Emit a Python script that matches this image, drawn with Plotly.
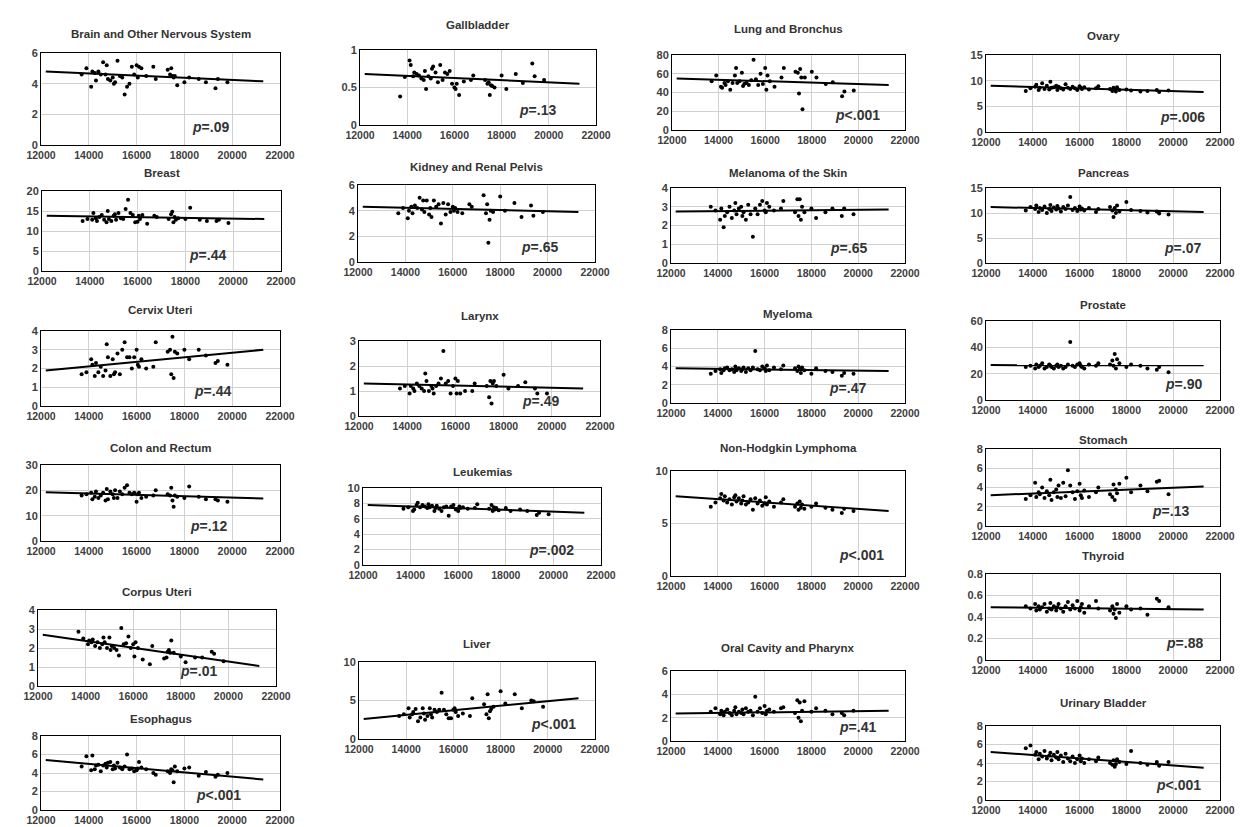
import plotly.graph_objects as go

# Shared x values (per-capita income)
income = [13700, 13900, 14100, 14150, 14250, 14300, 14400, 14500, 14600, 14700, 14750, 14800,
          14900, 15000, 15050, 15100, 15200, 15300, 15400, 15500, 15600, 15700, 15800, 15900,
          16000, 16050, 16100, 16200, 16400, 16700, 16800, 17300, 17400, 17450, 17500, 17550,
          17600, 17700, 18000, 18200, 18600, 18900, 19300, 19400, 19800]

trend_x = [12200, 21300]

brain = [4.6, 5.0, 3.8, 4.8, 4.7, 4.2, 4.8, 4.6, 5.4, 4.6, 5.2, 4.3, 4.2, 4.4, 4.0, 4.1, 5.5, 4.5, 4.4, 3.3, 3.8, 4.0, 5.1, 4.6, 5.2, 4.4, 5.1, 5.0, 4.5, 5.1, 4.3, 4.9, 4.6, 5.0, 4.5, 4.4, 4.5, 3.9, 4.1, 4.4, 4.3, 4.1, 3.7, 4.3, 4.1]
breast = [12.5, 13.0, 12.8, 14.5, 13.2, 12.5, 13.5, 14.0, 12.8, 12.2, 15.0, 13.0, 12.5, 13.8, 14.2, 12.8, 14.5, 13.2, 13.0, 15.5, 17.8, 14.5, 14.0, 12.2, 12.3, 13.8, 13.0, 14.0, 11.8, 13.8, 13.5, 13.0, 14.2, 14.8, 12.2, 13.5, 12.8, 13.2, 13.0, 15.8, 12.8, 12.5, 12.5, 12.8, 12.0]
cervix = [1.7, 1.8, 2.5, 2.2, 1.6, 2.3, 1.8, 2.1, 1.6, 1.9, 3.3, 2.6, 1.6, 2.5, 1.7, 1.8, 2.8, 1.7, 3.0, 3.4, 2.6, 2.6, 2.0, 2.6, 3.0, 2.2, 2.1, 2.5, 2.0, 2.1, 3.4, 2.9, 3.0, 1.7, 3.7, 1.5, 2.9, 2.8, 3.0, 2.5, 3.0, 2.7, 2.3, 2.4, 2.2]
colon = [18.0, 18.5, 19.0, 16.5, 17.5, 19.5, 17.0, 18.0, 19.0, 16.0, 20.5, 16.5, 19.5, 18.5, 17.0, 20.0, 17.0, 19.5, 18.5, 21.0, 22.0, 19.0, 18.5, 19.0, 15.5, 18.5, 19.0, 17.0, 17.5, 18.0, 20.0, 18.5, 18.0, 21.0, 16.0, 13.5, 18.0, 17.5, 17.0, 21.5, 17.5, 16.5, 16.5, 16.0, 15.5]
corpus = [2.85, 2.5, 2.2, 2.4, 2.3, 2.45, 2.1, 2.3, 2.0, 2.2, 2.55, 2.3, 2.0, 2.55, 1.9, 2.1, 2.0, 1.9, 1.6, 3.05, 2.2, 2.25, 2.6, 2.0, 2.2, 1.55, 2.3, 2.0, 1.4, 1.15, 2.1, 1.45, 1.5, 1.8, 1.9, 1.75, 2.4, 1.75, 1.55, 1.25, 1.5, 1.5, 1.8, 1.7, 1.3]
esophagus = [4.7, 5.8, 4.3, 5.9, 4.4, 4.8, 4.9, 4.2, 4.8, 5.0, 4.6, 5.1, 5.2, 4.4, 4.8, 4.5, 5.1, 4.6, 4.4, 4.7, 6.0, 4.4, 4.5, 4.2, 4.3, 4.5, 5.2, 4.6, 4.4, 4.0, 3.8, 4.2, 4.0, 4.4, 4.3, 3.0, 4.7, 4.2, 4.5, 4.6, 3.7, 4.1, 3.6, 3.8, 4.0]
gallbladder = [0.38, 0.64, 0.86, 0.80, 0.65, 0.70, 0.68, 0.66, 0.62, 0.60, 0.72, 0.48, 0.65, 0.62, 0.75, 0.78, 0.70, 0.57, 0.80, 0.60, 0.70, 0.68, 0.72, 0.55, 0.50, 0.48, 0.55, 0.40, 0.58, 0.60, 0.66, 0.60, 0.55, 0.57, 0.40, 0.53, 0.52, 0.50, 0.66, 0.48, 0.68, 0.56, 0.82, 0.65, 0.60]
kidney = [3.8, 4.2, 3.4, 4.0, 4.3, 3.8, 4.4, 4.2, 5.0, 4.1, 4.8, 3.9, 4.8, 3.7, 4.2, 3.5, 4.8, 4.3, 4.5, 3.0, 4.6, 3.7, 4.5, 3.9, 4.3, 4.0, 4.2, 3.9, 3.8, 4.5, 4.3, 5.2, 3.8, 4.5, 1.5, 3.3, 4.0, 3.9, 5.1, 4.0, 4.6, 3.5, 4.4, 3.6, 3.9]
larynx = [1.1, 1.2, 0.9, 1.2, 1.1, 1.0, 1.3, 1.2, 1.1, 1.0, 1.7, 1.4, 1.0, 1.2, 1.1, 0.9, 1.2, 1.3, 1.5, 2.6, 1.3, 1.4, 0.9, 1.2, 1.5, 0.9, 1.4, 0.9, 1.0, 1.0, 1.3, 1.2, 0.75, 1.4, 0.5, 1.3, 1.4, 1.2, 1.65, 1.1, 1.2, 1.35, 1.1, 0.9, 0.9]
leukemias = [7.3, 7.5, 7.0, 7.2, 7.8, 8.1, 7.5, 7.8, 7.6, 7.4, 7.9, 7.5, 7.7, 7.0, 7.4, 7.7, 7.3, 7.0, 7.5, 7.6, 6.4, 7.6, 7.8, 7.2, 7.0, 7.6, 7.4, 7.5, 7.3, 7.4, 7.9, 7.3, 7.8, 7.0, 7.5, 7.2, 7.4, 7.1, 7.4, 7.0, 7.2, 7.0, 6.5, 6.8, 6.6]
liver = [3.0, 3.2, 4.0, 2.8, 3.2, 3.5, 3.9, 2.3, 2.8, 4.0, 3.3, 2.5, 3.0, 4.0, 3.2, 2.8, 3.8, 3.5, 3.8, 6.0, 3.8, 3.2, 2.7, 2.7, 3.8, 4.0, 3.5, 3.0, 3.3, 3.0, 5.3, 4.5, 3.2, 5.8, 2.7, 3.6, 3.9, 4.2, 6.2, 4.6, 5.8, 4.0, 5.0, 4.9, 4.2]
lung = [52, 58, 46, 45, 50, 48, 52, 43, 50, 58, 66, 50, 52, 61, 47, 49, 50, 48, 53, 75, 54, 48, 60, 49, 66, 43, 58, 52, 46, 56, 66, 62, 61, 39, 65, 56, 22, 56, 62, 56, 49, 51, 36, 41, 42]
melanoma = [3.0, 2.8, 2.3, 2.9, 1.9, 2.5, 2.7, 3.0, 2.4, 2.8, 3.2, 2.6, 2.9, 3.0, 2.5, 2.7, 2.3, 3.1, 2.6, 1.4, 2.9, 2.6, 3.1, 3.3, 2.8, 2.7, 3.2, 3.0, 2.8, 2.9, 3.3, 2.7, 3.4, 2.5, 3.4, 2.3, 3.0, 2.7, 2.9, 2.4, 2.7, 2.9, 2.5, 2.9, 2.6]
myeloma = [3.2, 3.5, 3.7, 3.3, 3.6, 3.8, 3.9, 3.6, 3.7, 3.4, 4.0, 3.6, 3.8, 3.5, 3.7, 3.9, 3.4, 3.8, 3.6, 3.9, 5.7, 3.7, 3.6, 4.0, 3.8, 3.5, 4.1, 3.6, 3.9, 3.7, 4.1, 3.8, 3.5, 4.0, 3.7, 3.3, 3.9, 3.6, 3.2, 3.8, 3.5, 3.4, 3.0, 3.3, 3.2]
nhl = [6.6, 7.0, 7.4, 7.8, 7.2, 7.6, 7.0, 7.3, 6.8, 7.5, 7.7, 7.1, 7.4, 6.9, 7.2, 7.6, 6.8, 7.0, 7.3, 6.3, 7.4, 6.9, 7.2, 6.7, 6.9, 7.5, 6.8, 7.1, 6.6, 7.0, 7.3, 6.6, 6.9, 6.3, 7.1, 6.5, 6.8, 6.4, 6.6, 6.9, 6.5, 6.3, 6.0, 6.4, 6.2]
oral = [2.5, 2.8, 2.3, 2.6, 2.2, 2.5, 2.7, 2.4, 2.2, 2.6, 2.9, 2.3, 2.5, 2.4, 2.7, 2.3, 2.8, 2.5, 2.6, 2.2, 3.8, 2.5, 2.8, 2.4, 3.0, 2.3, 2.6, 2.7, 2.5, 2.8, 2.9, 2.4, 3.5, 2.0, 3.3, 1.7, 2.6, 3.4, 2.5, 2.8, 2.6, 2.3, 2.4, 2.2, 2.6]
ovary = [8.0, 8.5, 8.8, 9.2, 8.2, 8.6, 9.5, 8.4, 9.0, 8.3, 9.8, 8.6, 8.7, 9.0, 8.2, 8.8, 8.5, 8.3, 9.3, 8.6, 8.4, 8.8, 8.5, 8.2, 8.9, 8.6, 8.4, 8.7, 8.3, 8.5, 8.9, 8.4, 8.0, 8.6, 8.3, 7.9, 8.7, 8.2, 8.3, 8.1, 7.9, 8.0, 8.2, 7.8, 8.1]
pancreas = [10.5, 11.2, 10.8, 11.5, 10.2, 11.0, 10.6, 11.3, 10.0, 10.8, 11.6, 10.4, 11.1, 10.7, 11.4, 10.9, 10.3, 11.2, 10.8, 11.5, 13.2, 10.6, 11.0, 10.4, 11.3, 10.7, 10.9, 10.5, 11.0, 10.2, 10.8, 11.2, 10.5, 9.2, 11.0, 10.0, 11.5, 10.3, 12.2, 10.6, 10.4, 10.1, 10.3, 9.9, 9.7]
prostate = [25, 26, 24, 27, 25, 26, 28, 24, 25, 27, 26, 25, 24, 26, 27, 25, 26, 24, 25, 27, 44, 26, 25, 27, 28, 26, 25, 24, 27, 26, 28, 27, 30, 26, 35, 24, 31, 28, 25, 27, 26, 24, 23, 25, 21]
stomach = [2.8, 3.2, 4.5, 3.0, 3.5, 3.3, 4.0, 2.9, 3.6, 3.2, 4.8, 2.7, 3.5, 3.8, 3.0, 4.2, 2.9, 4.5, 3.1, 5.8, 4.2, 3.5, 2.8, 3.6, 4.4, 3.2, 2.9, 3.7, 3.0, 3.5, 4.0, 3.3, 3.0, 4.3, 2.7, 3.8, 3.4, 4.4, 5.0, 3.5, 4.2, 3.6, 4.6, 4.7, 3.3]
thyroid = [0.50, 0.48, 0.52, 0.46, 0.50, 0.47, 0.49, 0.52, 0.45, 0.48, 0.53, 0.47, 0.50, 0.46, 0.49, 0.52, 0.48, 0.45, 0.50, 0.54, 0.47, 0.51, 0.48, 0.55, 0.46, 0.49, 0.52, 0.44, 0.50, 0.55, 0.48, 0.46, 0.50, 0.43, 0.47, 0.39, 0.52, 0.44, 0.50, 0.47, 0.48, 0.42, 0.57, 0.55, 0.49]
urinary = [5.6, 5.9, 4.9, 5.2, 4.4, 5.0, 4.7, 5.3, 4.5, 4.8, 5.1, 4.3, 4.9, 4.6, 5.2, 4.4, 4.8, 4.1, 5.0, 4.5, 4.2, 4.7, 4.0, 4.4, 4.8, 4.2, 4.5, 4.0, 4.4, 4.2, 4.6, 4.0, 3.8, 4.3, 3.6, 3.9, 4.4, 4.1, 3.9, 5.3, 4.0, 3.8, 4.1, 3.7, 4.1]

titles = ["Brain and Other Nervous System", "Breast", "Cervix Uteri", "Colon and Rectum", "Corpus Uteri", "Esophagus",
          "Gallbladder", "Kidney and Renal Pelvis", "Larynx", "Leukemias", "Liver",
          "Lung and Bronchus", "Melanoma of the Skin", "Myeloma", "Non-Hodgkin Lymphoma", "Oral Cavity and Pharynx",
          "Ovary", "Pancreas", "Prostate", "Stomach", "Thyroid", "Urinary Bladder"]
series = [brain, breast, cervix, colon, corpus, esophagus,
          gallbladder, kidney, larynx, leukemias, liver,
          lung, melanoma, myeloma, nhl, oral,
          ovary, pancreas, prostate, stomach, thyroid, urinary]
trend_start = [4.8, 13.8, 1.9, 19.2, 2.7, 5.4, 0.68, 4.3, 1.3, 7.8, 2.6, 55, 2.75, 3.8, 7.6, 2.35, 9.0, 11.2, 26.5, 3.2, 0.49, 5.2]
trend_end = [4.15, 13.0, 3.0, 16.8, 1.05, 3.3, 0.55, 3.9, 1.1, 6.8, 5.3, 48, 2.85, 3.5, 6.2, 2.6, 7.8, 10.2, 26.3, 4.1, 0.47, 3.5]
p_labels = ["=.09", "=.44", "=.44", "=.12", "=.01", "<.001", "=.13", "=.65", "=.49", "=.002", "<.001",
            "<.001", "=.65", "=.47", "<.001", "=.41", "=.006", "=.07", "=.90", "=.13", "=.88", "<.001"]
y_max = [6, 20, 4, 30, 4, 8, 1, 6, 3, 10, 10, 80, 4, 8, 10, 6, 15, 15, 60, 8, 0.8, 8]
y_step = [2, 5, 1, 10, 1, 2, 0.5, 2, 1, 2, 5, 20, 1, 2, 5, 2, 5, 5, 20, 2, 0.2, 2]

# Panel boxes in pixels: left, right, top, bottom
boxes = [(33, 272, 45, 137), (34, 273, 183, 263), (33, 272, 323, 398), (33, 272, 457, 533), (30, 268, 602, 678), (33, 272, 728, 802),
         (352, 588, 42, 117), (350, 587, 177, 254), (351, 592, 333, 408), (355, 593, 480, 557), (351, 587, 654, 731),
         (664, 897, 47, 122), (663, 897, 180, 255), (663, 897, 322, 395), (663, 897, 463, 568), (663, 897, 663, 733),
         (978, 1212, 47, 124), (978, 1212, 180, 255), (978, 1212, 313, 392), (978, 1212, 441, 518), (978, 1212, 566, 652), (978, 1212, 718, 792)]
title_y = [26, 165, 302, 440, 584, 711, 17, 159, 308, 464, 636, 21, 165, 306, 440, 640, 28, 165, 297, 432, 548, 695]
p_x = [18250, 18050, 18300, 18150, 17900, 18400, 18650, 18800, 18700, 18900, 19200, 18900, 18700, 18650, 19100, 19100, 19350, 19500, 19550, 19000, 19600, 19200]

W, H = 1243, 827
FONT = "Liberation Sans"

fig = go.Figure()
layout = {}
annotations = []
for i, (name, ys) in enumerate(zip(titles, series)):
    n = i + 1
    xa = "x" if n == 1 else f"x{n}"
    ya = "y" if n == 1 else f"y{n}"
    xkey = "xaxis" if n == 1 else f"xaxis{n}"
    ykey = "yaxis" if n == 1 else f"yaxis{n}"
    l, r, t, b = boxes[i]
    fig.add_trace(go.Scatter(x=income, y=ys, mode="markers", xaxis=xa, yaxis=ya,
                             marker=dict(color="black", size=4), showlegend=False, hoverinfo="skip"))
    fig.add_trace(go.Scatter(x=trend_x, y=[trend_start[i], trend_end[i]], mode="lines", xaxis=xa, yaxis=ya,
                             line=dict(color="black", width=2), showlegend=False, hoverinfo="skip"))
    layout[xkey] = dict(domain=[l / W, r / W], anchor=ya, range=[12000, 22000], dtick=2000, tick0=12000,
                        tickformat="d",
                        showgrid=True, gridcolor="#d0d0d0", gridwidth=1, showline=True, linecolor="black",
                        linewidth=1, mirror=True, zeroline=False, ticks="", automargin=False,
                        tickfont=dict(family=FONT, size=10.5, color="#404040", weight="bold"))
    layout[ykey] = dict(domain=[1 - b / H, 1 - t / H], anchor=xa, range=[0, y_max[i]], dtick=y_step[i], tick0=0,
                        showgrid=True, gridcolor="#d0d0d0", gridwidth=1, showline=True, linecolor="black",
                        linewidth=1, mirror=True, zeroline=False, ticks="", automargin=False,
                        tickfont=dict(family=FONT, size=11, color="#404040", weight="bold"))
    annotations.append(dict(text=f"<b>{name}</b>", x=(l + r) / 2 / W, y=1 - title_y[i] / H,
                            xref="paper", yref="paper", showarrow=False, xanchor="center", yanchor="middle",
                            font=dict(family=FONT, size=11.5, color="#333333")))
    annotations.append(dict(text=f"<i>p</i>{p_labels[i]}", x=p_x[i], y=0.2, xref=xa, yref=f"{ya} domain",
                            showarrow=False, xanchor="left", yanchor="middle",
                            font=dict(family=FONT, size=14, color="#333333", weight="bold")))

fig.update_layout(**layout)
fig.update_layout(width=W, height=H, margin=dict(l=0, r=0, t=0, b=0), paper_bgcolor="white",
                  plot_bgcolor="white", annotations=annotations, showlegend=False)
fig.write_html("out.html")
